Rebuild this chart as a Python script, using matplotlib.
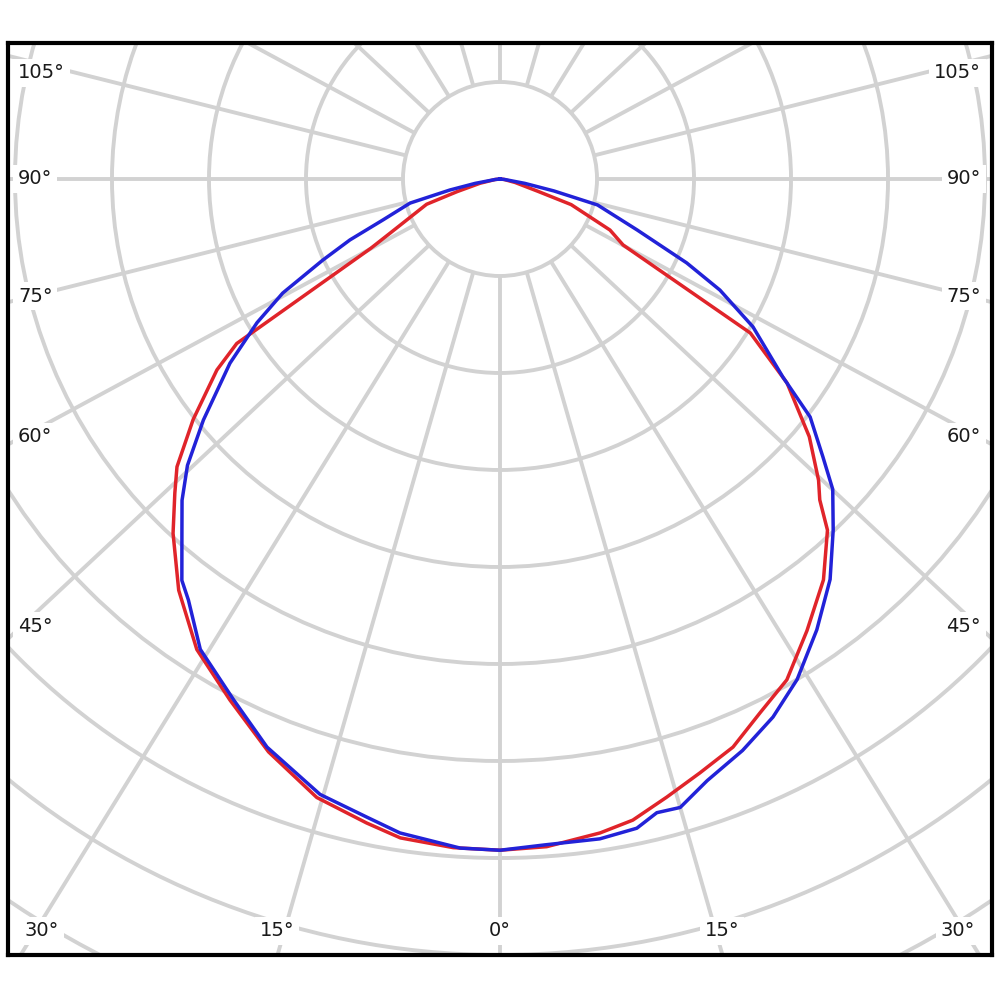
import numpy as np
import matplotlib
matplotlib.use("Agg")
import matplotlib.pyplot as plt
from matplotlib.patches import Circle

# ---- data (gamma in degrees, negative = left half; intensity in cd) ----
red_gamma = [-90, -84, -78, -73.6, -71, -63.8, -61.8, -58, -56, -51.9, -48.3, -46,
             -42.7, -38, -32.8, -27.4, -22, -16.5, -11.7, -8.6, -4, 0,
             4, 8.7, 11.7, 15.1, 18.6, 22.3, 26, 29.8, 34.2, 38.9, 43, 44.9, 46.6,
             50.2, 54.6, 58.4, 61.8, 65.1, 70.2, 72, 77, 84, 90]
red_cd = [0, 5, 21, 46, 80, 126, 151, 320, 352, 402, 446, 466,
          497, 538, 577, 605, 637, 665, 678, 687, 691, 692,
          690, 682, 675, 660, 646, 633, 612, 595, 563, 531, 495, 467, 452,
          415, 363, 303, 144, 125, 78, 41, 16, 4, 0]

blue_gamma = [-90, -84, -80, -77.6, -75, -70.7, -67.9, -65.4, -62.3, -59.4, -55.7,
              -50.9, -47.5, -44.7, -41.9, -38.4, -36.5, -32.5, -27.1, -22.3, -16.3,
              -11.8, -8.7, -3.4, 0,
              3.9, 8.6, 11.9, 13.9, 16, 19, 23, 26.9, 30.7, 35.1, 39.5, 43.5, 47,
              49.3, 52.5, 55, 59.7, 63.2, 65.8, 69.6, 75.1, 77.5, 80, 84, 90]
blue_cd = [0, 5, 26, 53, 96, 128, 167, 201, 253, 291, 337,
           394, 437, 466, 491, 528, 540, 575, 603, 633, 661,
           672, 682, 691, 692,
           688, 688, 684, 673, 674, 656, 640, 622, 600, 568, 535, 499, 469,
           439, 403, 356, 302, 254, 211, 151, 104, 57, 26, 5, 0]

ring_values = [100, 200, 300, 400, 500, 600, 700, 800, 900, 1000]
spoke_angles = list(range(0, 360, 15))

left_labels = ["105°", "90°", "75°", "60°", "45°"]
bottom_labels = ["30°", "15°", "0°", "15°", "30°"]

# ---- figure ----
fig = plt.figure(figsize=(10, 10), dpi=100)
ax = fig.add_axes([0.008, 0.045, 0.984, 0.912])
ax.set_xlim(-507.2, 507.2)
ax.set_ylim(-800.0, 140.2)
ax.set_xticks([])
ax.set_yticks([])
for s in ax.spines.values():
    s.set_linewidth(3.0)
    s.set_color("black")
    s.set_zorder(10)

grid_col = "#d2d2d2"
grid_lw = 2.8
for rv in ring_values:
    ax.add_patch(Circle((0, 0), rv, fill=False, edgecolor=grid_col, linewidth=grid_lw, zorder=1))
# spokes: the original grid's spokes are drawn slightly widened horizontally
for a in spoke_angles:
    t = np.radians(a)
    t2 = np.arctan2(1.07 * np.sin(t), np.cos(t))
    ax.plot([100 * np.sin(t2), 1200 * np.sin(t2)], [-100 * np.cos(t2), -1200 * np.cos(t2)],
            color=grid_col, linewidth=grid_lw, zorder=1, solid_capstyle="butt")

def to_xy(g, v):
    g = np.radians(np.asarray(g, dtype=float))
    v = np.asarray(v, dtype=float)
    return v * np.sin(g), -v * np.cos(g)

rx, ry = to_xy(red_gamma, red_cd)
bx, by = to_xy(blue_gamma, blue_cd)
ax.plot(rx, ry, color="#e0242a", linewidth=2.5, zorder=3, solid_joinstyle="round")
ax.plot(bx, by, color="#2222d8", linewidth=2.5, zorder=4, solid_joinstyle="round")

# ---- angle labels ----
bb = dict(boxstyle="square,pad=0.25", facecolor="white", edgecolor="none")
label_y = [73, 179, 296, 437, 626]
for lab, py in zip(left_labels, label_y):
    fig.text(18 / 1000, 1 - py / 1000, lab, ha="left", va="center", fontsize=14,
             color="#1a1a1a", bbox=bb, zorder=5)
    fig.text(981 / 1000, 1 - py / 1000, lab, ha="right", va="center", fontsize=14,
             color="#1a1a1a", bbox=bb, zorder=5)
bottom_x = [42, 277, 500, 722, 958]
for lab, px in zip(bottom_labels, bottom_x):
    fig.text(px / 1000, 1 - 931 / 1000, lab, ha="center", va="center", fontsize=14,
             color="#1a1a1a", bbox=bb, zorder=5)

fig.savefig("out.png", dpi=100, facecolor="white")
